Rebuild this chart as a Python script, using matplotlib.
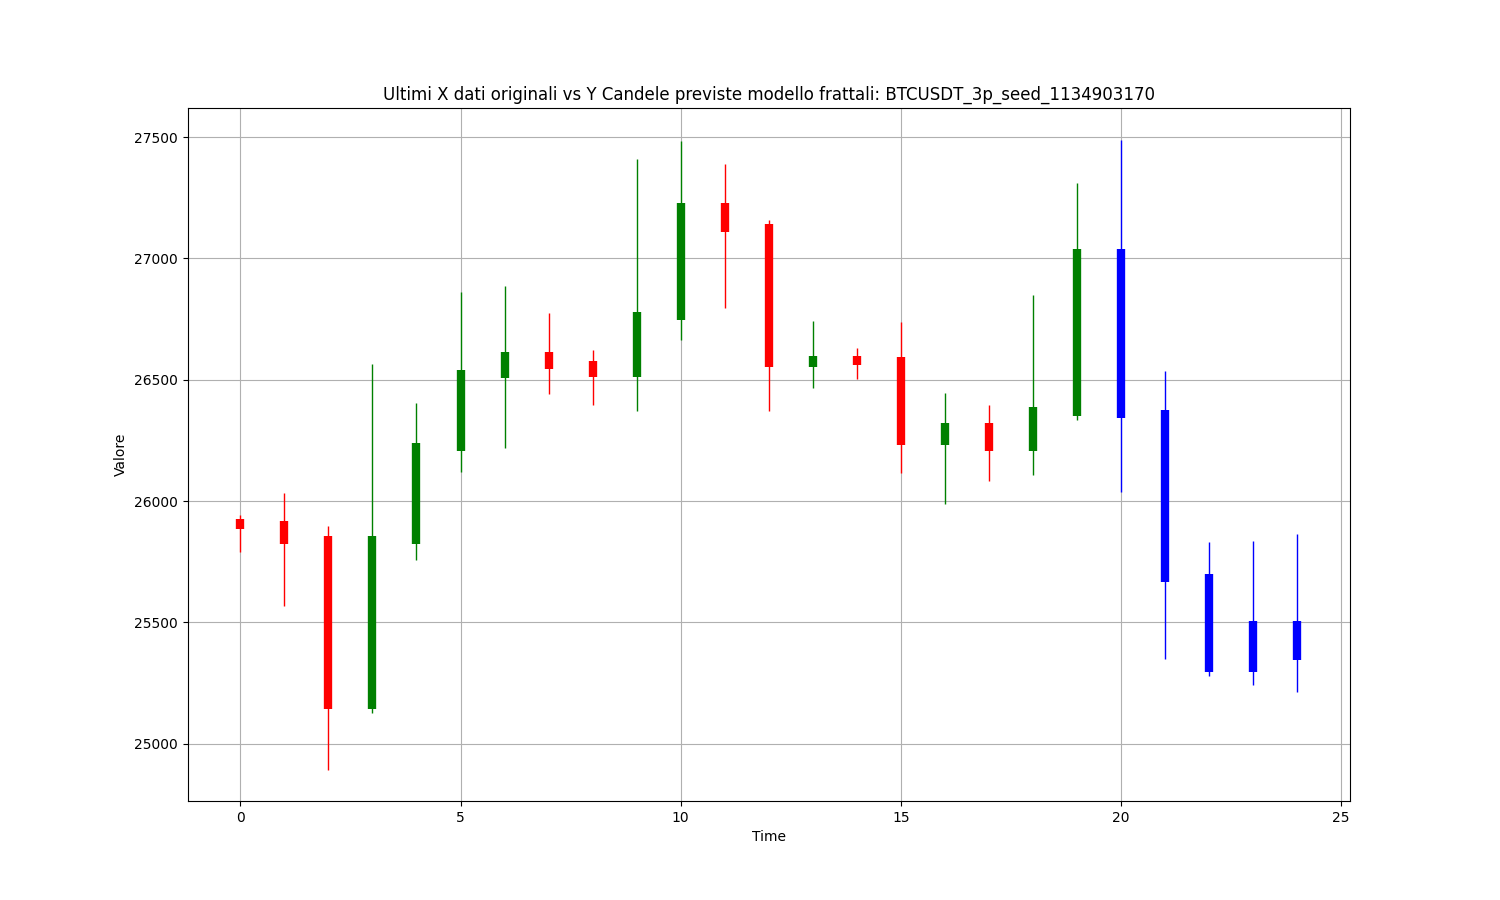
import matplotlib
matplotlib.use("Agg")
import matplotlib.pyplot as plt

# candle data (first 20 original, last 5 predicted)
opens = [25927, 25918, 25857, 25144, 25824, 26207, 26507, 26616, 26579, 26512,
         26746, 27228, 27142, 26553, 26598, 26594, 26233, 26322, 26208, 26351,
         27037, 26376, 25698, 25295, 25504]
highs = [25943, 26034, 25898, 26565, 26404, 26863, 26887, 26776, 26624, 27409,
         27483, 27390, 27159, 26742, 26631, 26738, 26446, 26396, 26849, 27310,
         27490, 26536, 25832, 25836, 25864]
lows = [25791, 25566, 24894, 25128, 25759, 26121, 26220, 26441, 26396, 26371,
        26665, 26796, 26373, 26468, 26503, 26117, 25986, 26084, 26109, 26336,
        26038, 25351, 25278, 25244, 25215]
closes = [25886, 25824, 25144, 25857, 26239, 26541, 26616, 26544, 26512, 26780,
          27228, 27109, 26553, 26598, 26562, 26233, 26322, 26208, 26388, 27037,
          26343, 25666, 25295, 25504, 25344]
n_original = 20
title = "Ultimi X dati originali vs Y Candele previste modello frattali: BTCUSDT_3p_seed_1134903170"


def candle_color(i):
    if i >= n_original:
        return 'blue'
    return 'green' if closes[i] >= opens[i] else 'red'


def plot_candles():
    plt.figure(figsize=(15, 9), dpi=100)
    for i in range(len(opens)):
        c = candle_color(i)
        plt.vlines(i, lows[i], highs[i], color=c, linewidth=1)
        plt.vlines(i, min(opens[i], closes[i]), max(opens[i], closes[i]), color=c, linewidth=6)

    plt.title(title)
    plt.xlabel("Time")
    plt.ylabel("Valore")
    plt.grid(True)
    plt.savefig("out.png")


if __name__ == "__main__":
    plot_candles()
